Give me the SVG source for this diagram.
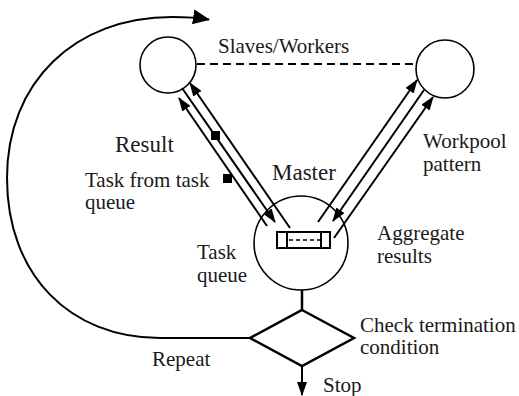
<svg xmlns="http://www.w3.org/2000/svg" width="519" height="396" viewBox="0 0 519 396">
<defs>
<style>
.node{fill:#fff;stroke:#000;stroke-width:1.6}
.ln{fill:none;stroke:#000;stroke-width:2}
.lbl{font-family:"Liberation Serif","Times New Roman",serif;font-size:21px;fill:#1a1a1a}
.big{font-size:23px}
</style>
<marker id="ah" markerUnits="userSpaceOnUse" markerWidth="14" markerHeight="10" viewBox="0 0 14 10" refX="13" refY="5" orient="auto"><path d="M0,0 L14,5 L0,10 z" fill="#000"/></marker>
<marker id="ahBig" markerUnits="userSpaceOnUse" markerWidth="17" markerHeight="15" viewBox="0 0 17 15" refX="16" refY="7.5" orient="auto"><path d="M0,0 L17,7.5 L0,15 z" fill="#000"/></marker>
</defs>
<rect width="519" height="396" fill="#fff"/>
<g id="slave1"><circle class="node" cx="168" cy="65" r="28"/></g>
<g id="slave2"><circle class="node" cx="445" cy="69" r="29"/></g>
<g id="master">
<circle class="node" cx="301" cy="243" r="47"/>
<rect x="277" y="232" width="53" height="16" fill="#fff" stroke="#000" stroke-width="2"/>
<line x1="287" y1="232" x2="287" y2="248" stroke="#000" stroke-width="2"/>
<line x1="321" y1="232" x2="321" y2="248" stroke="#000" stroke-width="2"/>
<line x1="289" y1="240" x2="320" y2="240" stroke="#000" stroke-width="1.5" stroke-dasharray="4,3"/>
</g>
<g id="decision"><polygon points="302,310 354,338 302,366 250,338" fill="#fff" stroke="#000" stroke-width="2.5"/></g>
<g id="connectors">
<line x1="197" y1="64" x2="417" y2="64" stroke="#000" stroke-width="2" stroke-dasharray="8,5"/>
<path class="ln" d="M267,226 L179,98" marker-end="url(#ah)"/>
<path class="ln" d="M182,88 L275,222" marker-end="url(#ah)"/>
<path class="ln" d="M290,228 L190,83" marker-end="url(#ah)"/>
<path class="ln" d="M318,222 L417,80" marker-end="url(#ah)"/>
<path class="ln" d="M424,90 L333,221" marker-end="url(#ah)"/>
<path class="ln" d="M334,238 L433,97" marker-end="url(#ah)"/>
<rect x="211" y="131" width="9" height="9" fill="#000"/>
<rect x="223" y="174" width="9" height="9" fill="#000"/>
<line x1="302" y1="290" x2="302" y2="310" stroke="#000" stroke-width="2.5"/>
<path class="ln" stroke-width="2.5" d="M302,366 L302,395" marker-end="url(#ah)"/>
<path class="ln" stroke-width="2.5" d="M250,338 L160,338 C70,338 7,275 7,178 C7,82 75,17 172,17 C185,17 197,17.5 209,19.5" marker-end="url(#ahBig)"/>
</g>
<g id="labels">
<text class="lbl" x="218" y="53">Slaves/Workers</text>
<text class="lbl big" x="115" y="152">Result</text>
<text class="lbl" x="85" y="187">Task from task</text>
<text class="lbl" x="85" y="209">queue</text>
<text class="lbl big" x="272" y="180">Master</text>
<text class="lbl" x="423" y="148">Workpool</text>
<text class="lbl" x="423" y="171">pattern</text>
<text class="lbl" x="197" y="259">Task</text>
<text class="lbl" x="197" y="282">queue</text>
<text class="lbl" x="377" y="240">Aggregate</text>
<text class="lbl" x="377" y="263">results</text>
<text class="lbl" x="360" y="332">Check termination</text>
<text class="lbl" x="360" y="354">condition</text>
<text class="lbl" x="152" y="366">Repeat</text>
<text class="lbl" x="323" y="392">Stop</text>
</g>
</svg>
